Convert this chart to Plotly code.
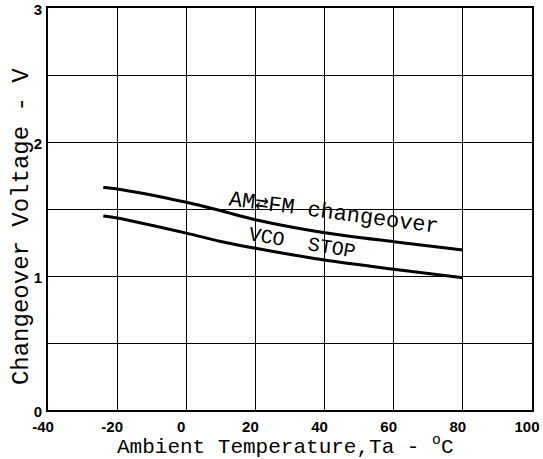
import plotly.graph_objects as go

# Data
temp_am_fm = [-24, -20, 0, 10, 20, 40, 60, 80]
volt_am_fm = [1.66, 1.65, 1.55, 1.487, 1.42, 1.323, 1.256, 1.194]

temp_vco = [-24, -20, 0, 10, 20, 40, 60, 80]
volt_vco = [1.448, 1.433, 1.32, 1.258, 1.207, 1.119, 1.05, 0.987]

x_ticks = [-40, -20, 0, 20, 40, 60, 80, 100]
y_ticks = [0, 1, 2, 3]

mono = "Liberation Mono, Courier New, monospace"
tick_font = dict(family="Liberation Sans, Arial, sans-serif",
                 size=15, color="black", weight="bold")

fig = go.Figure()
for xs, ys in [(temp_am_fm, volt_am_fm), (temp_vco, volt_vco)]:
    fig.add_trace(go.Scatter(x=xs, y=ys, mode="lines",
                             line=dict(color="black", width=3, shape="spline", smoothing=0.8),
                             showlegend=False, hoverinfo="skip"))

fig.update_layout(
    width=543, height=459,
    margin=dict(l=48, r=11, t=8, b=49, autoexpand=False),
    paper_bgcolor="white", plot_bgcolor="white",
    xaxis=dict(range=[-40, 100], tickvals=x_ticks, ticktext=[str(v) for v in x_ticks],
               showgrid=True, gridcolor="black", gridwidth=1.3, automargin=False,
               showline=True, linecolor="black", linewidth=2, mirror=True,
               ticks="", tickfont=tick_font, zeroline=False, ticklabelstandoff=2,
               ticklabelshift=-5, ticklabeloverflow="allow"),
    yaxis=dict(range=[0, 3], tickvals=y_ticks, ticktext=[str(v) for v in y_ticks],
               showgrid=True, gridcolor="black", gridwidth=1.3, automargin=False,
               minor=dict(dtick=0.5, showgrid=True, gridcolor="black", gridwidth=1.3),
               showline=True, linecolor="black", linewidth=2, mirror=True,
               ticks="", tickfont=tick_font, zeroline=False, ticklabelstandoff=1,
               ticklabelshift=2, ticklabeloverflow="allow"),
)

fig.add_annotation(x=0.49, xref="paper", y=0, yref="paper", yshift=-20,
                   xanchor="center", yanchor="top", showarrow=False,
                   text="Ambient Temperature,Ta - <sup>o</sup>C",
                   font=dict(family=mono, size=21, color="black"))
fig.add_annotation(x=0, xref="paper", y=0.455, yref="paper", xshift=-27,
                   xanchor="center", yanchor="middle", showarrow=False, textangle=-90,
                   text="Changeover Voltage - V",
                   font=dict(family=mono, size=24, color="black"))

fig.add_annotation(x=42.5, y=1.465, showarrow=False, textangle=7.5,
                   text="AM\u21c4FM changeover",
                   font=dict(family=mono, size=22, color="black"))
fig.add_annotation(x=33.5, y=1.24, showarrow=False, textangle=9.5,
                   text="VCO  STOP",
                   font=dict(family=mono, size=20, color="black"))

fig.write_html("out.html", config={"displayModeBar": False},
               post_script="document.body.style.margin='0';")
